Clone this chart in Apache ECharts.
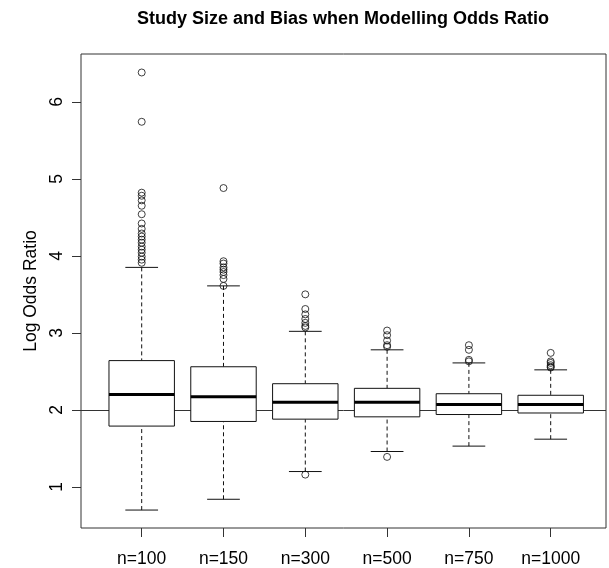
<!DOCTYPE html>
<html>
<head>
<meta charset="utf-8">
<script src="https://cdn.jsdelivr.net/npm/echarts@6/dist/echarts.min.js"></script>
<style>
html,body{margin:0;padding:0;background:#fff;}
#chart{width:609px;height:568px;}
</style>
</head>
<body>
<div id="chart"></div>
<script>
// ---- data ----
const categories = ['n=100', 'n=150', 'n=300', 'n=500', 'n=750', 'n=1000'];
const whiskerLow  = [0.70, 0.84, 1.20, 1.46, 1.53, 1.62];
const quartile1   = [1.79, 1.85, 1.88, 1.91, 1.94, 1.96];
const medians     = [2.20, 2.17, 2.10, 2.10, 2.07, 2.07];
const quartile3   = [2.64, 2.56, 2.34, 2.28, 2.21, 2.19];
const whiskerHigh = [3.85, 3.61, 3.02, 2.78, 2.61, 2.52];
const outliers100  = [6.38, 5.74, 4.82, 4.78, 4.72, 4.65, 4.54, 4.42, 4.35, 4.29, 4.25, 4.21, 4.17, 4.12, 4.08, 4.04, 3.99, 3.95, 3.91];
const outliers150  = [4.88, 3.93, 3.90, 3.85, 3.82, 3.79, 3.75, 3.70, 3.61];
const outliers300  = [3.50, 3.31, 3.24, 3.18, 3.13, 3.09, 3.07, 1.16];
const outliers500  = [3.03, 2.97, 2.90, 2.84, 2.82, 1.39];
const outliers750  = [2.84, 2.78, 2.65, 2.63];
const outliers1000 = [2.74, 2.63, 2.61, 2.58, 2.56, 2.55];
const yTicks = [1, 2, 3, 4, 5, 6];
const referenceValue = 2;
const titleText = 'Study Size and Bias when Modelling Odds Ratio';
const yTitle = 'Log Odds Ratio';

// ---- build series data ----
const boxData = categories.map((c, i) => [i + 1, whiskerLow[i], quartile1[i], medians[i], quartile3[i], whiskerHigh[i]]);
const outlierGroups = [outliers100, outliers150, outliers300, outliers500, outliers750, outliers1000];
const outlierData = [];
outlierGroups.forEach((g, i) => g.forEach(v => outlierData.push([i + 1, v])));
const xPositions = categories.map((c, i) => i + 1);

const chart = echarts.init(document.getElementById('chart'), null, {renderer: 'canvas'});
const FONT = 'Liberation Sans, Arial, sans-serif';
const ink = '#111';

function renderBox(params, api) {
  const x = api.value(0);
  const lo = api.value(1), q1 = api.value(2), md = api.value(3), q3 = api.value(4), hi = api.value(5);
  const hw = 0.4, cw = 0.2;
  const pLT = api.coord([x - hw, q3]);
  const pRB = api.coord([x + hw, q1]);
  const pMl = api.coord([x - hw, md]);
  const pMr = api.coord([x + hw, md]);
  const pHi = api.coord([x, hi]);
  const pQ3 = api.coord([x, q3]);
  const pLo = api.coord([x, lo]);
  const pQ1 = api.coord([x, q1]);
  const cHl = api.coord([x - cw, hi]), cHr = api.coord([x + cw, hi]);
  const cLl = api.coord([x - cw, lo]), cLr = api.coord([x + cw, lo]);
  const solid = {stroke: ink, lineWidth: 1, fill: null};
  const dashed = {stroke: ink, lineWidth: 1, lineDash: [4, 3]};
  return {
    type: 'group',
    children: [
      {type: 'line', shape: {x1: pHi[0], y1: pHi[1], x2: pQ3[0], y2: pQ3[1]}, style: dashed},
      {type: 'line', shape: {x1: pLo[0], y1: pLo[1], x2: pQ1[0], y2: pQ1[1]}, style: dashed},
      {type: 'line', shape: {x1: cHl[0], y1: cHl[1], x2: cHr[0], y2: cHr[1]}, style: solid},
      {type: 'line', shape: {x1: cLl[0], y1: cLl[1], x2: cLr[0], y2: cLr[1]}, style: solid},
      {type: 'rect', shape: {x: pLT[0], y: pLT[1], width: pRB[0] - pLT[0], height: pRB[1] - pLT[1]}, style: {stroke: ink, lineWidth: 1, fill: '#fff'}},
      {type: 'line', shape: {x1: pMl[0], y1: pMl[1], x2: pMr[0], y2: pMr[1]}, style: {stroke: '#000', lineWidth: 3}}
    ]
  };
}

const option = {
  animation: false,
  backgroundColor: '#fff',
  title: {
    text: titleText,
    left: 338,
    top: 5,
    textAlign: 'center',
    textStyle: {fontFamily: FONT, fontSize: 18, fontWeight: 'bold', color: '#000'}
  },
  grid: {
    left: 81, right: 3, top: 54, bottom: 40,
    show: true, borderColor: '#333', borderWidth: 1, backgroundColor: 'transparent'
  },
  xAxis: {
    type: 'value',
    min: 0.258, max: 6.676,
    axisLine: {show: false},
    splitLine: {show: false},
    axisTick: {show: true, inside: false, length: 9, customValues: xPositions, lineStyle: {color: '#333'}},
    axisLabel: {
      show: true, customValues: xPositions, margin: 22,
      formatter: v => categories[Math.round(v) - 1] || '',
      fontFamily: FONT, fontSize: 17.5, color: '#000'
    }
  },
  yAxis: {
    type: 'value',
    min: 0.467, max: 6.62,
    name: yTitle,
    nameLocation: 'middle',
    nameRotate: 90,
    nameGap: 37,
    nameTextStyle: {fontFamily: FONT, fontSize: 17.5, color: '#000'},
    axisLine: {show: false},
    splitLine: {show: false},
    axisTick: {show: true, inside: false, length: 9, customValues: yTicks, lineStyle: {color: '#333'}},
    axisLabel: {
      show: true, customValues: yTicks, rotate: 90, margin: 15,
      fontFamily: FONT, fontSize: 17.5, color: '#000'
    }
  },
  series: [
    {
      type: 'custom',
      name: 'box',
      renderItem: renderBox,
      encode: {x: 0, y: [1, 2, 3, 4, 5]},
      data: boxData,
      silent: true,
      z: 3
    },
    {
      type: 'scatter',
      name: 'outliers',
      data: outlierData,
      symbol: 'circle',
      symbolSize: 7,
      itemStyle: {color: 'transparent', borderColor: ink, borderWidth: 1},
      silent: true,
      z: 4,
      markLine: {
        silent: true,
        symbol: ['none', 'none'],
        label: {show: false},
        lineStyle: {color: '#333', width: 1, type: 'solid'},
        data: [{yAxis: referenceValue}],
        z: 2
      }
    }
  ]
};
chart.setOption(option);
</script>
</body>
</html>
